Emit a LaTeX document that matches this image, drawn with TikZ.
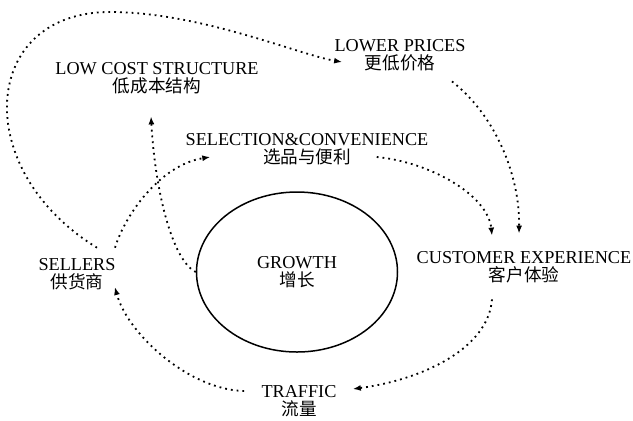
\documentclass[tikz,border=0pt]{standalone}
\usepackage{fontspec}
\setmainfont{Liberation Serif}
\newfontfamily\zhfont{Noto Sans CJK SC}
\newcommand{\zh}[1]{{\zhfont\fontsize{8.8}{9.2}\selectfont #1}}
\usetikzlibrary{arrows.meta, shapes.geometric}

\begin{document}
\begin{tikzpicture}[x=0.5pt, y=-0.5pt,
    every node/.style={align=center, inner sep=2pt, font=\fontsize{9.1}{9.2}\selectfont},
    flow/.style={dotted, line width=0.9pt, -{Latex[length=4pt, width=3pt]}}]
  \useasboundingbox (0,0) rectangle (633,420);

  % the flywheel labels
  \node (lowcost) at (157,78) {LOW COST STRUCTURE\\\zh{低成本结构}};
  \node (prices) at (400,55) {LOWER PRICES\\\zh{更低价格}};
  \node (selection) at (307,149) {SELECTION\&CONVENIENCE\\\zh{选品与便利}};
  \node (customer) at (524,267) {CUSTOMER EXPERIENCE\\\zh{客户体验}};
  \node (sellers) at (77,274) {SELLERS\\\zh{供货商}};
  \node (traffic) at (299,401) {TRAFFIC\\\zh{流量}};
  \node[ellipse, draw, line width=0.75pt, minimum width=100.5pt, minimum height=80pt] (growth) at (297,272) {GROWTH\\\zh{增长}};

  % dotted arrows
  \draw[flow] ([shift={(20,-6)}]sellers.north) .. controls (-30,170) and (-20,12) .. (110,12)
    .. controls (200,12) and (300,55) .. ([shift={(12,7)}]prices.west);
  \draw[flow] (growth.west) .. controls (172,260) and (155,190) .. ([shift={(-6,18)}]lowcost.south);
  \draw[flow] ([shift={(38,-6)}]sellers.north) .. controls (125,215) and (160,165) .. ([shift={(29,8)}]selection.west);
  \draw[flow] ([shift={(-56,8)}]selection.east) .. controls (430,162) and (488,195) .. ([shift={(-32,-11)}]customer.north);
  \draw[flow] ([shift={(52,6)}]prices.south) .. controls (495,115) and (520,175) .. ([shift={(-5,-13)}]customer.north);
  \draw[flow] ([shift={(-32,12)}]customer.south) .. controls (488,350) and (420,380) .. ([shift={(12,-12)}]traffic.east);
  \draw[flow] ([shift={(-13,-10)}]traffic.west) .. controls (190,390) and (128,335) .. ([shift={(-5,13)}]sellers.east);
\end{tikzpicture}
\end{document}
